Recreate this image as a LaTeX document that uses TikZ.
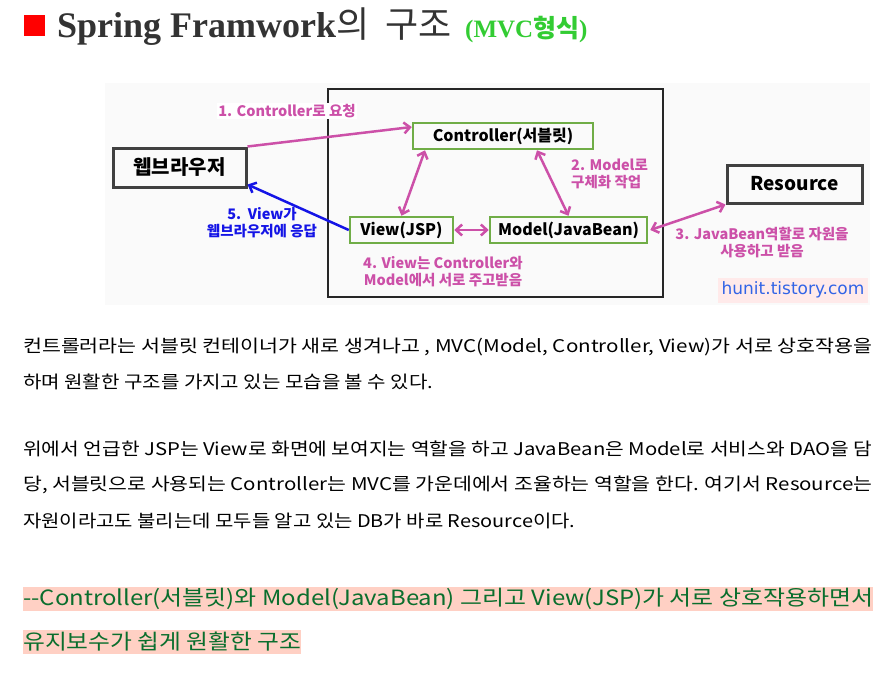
\documentclass[tikz,border=0pt]{standalone}
\usepackage{fontspec}
\usepackage{graphicx}
\setmainfont{Noto Sans CJK KR}
\newfontfamily\titleserif{Liberation Serif}
\newfontfamily\tagfont{DejaVu Sans}
\usetikzlibrary{arrows.meta,positioning}

\definecolor{flowpink}{RGB}{204,80,168}
\definecolor{mvcframe}{RGB}{112,173,71}
\definecolor{replyblue}{RGB}{20,20,230}
\definecolor{titlegray}{RGB}{51,51,51}
\definecolor{mvcgreen}{RGB}{51,204,51}
\definecolor{markpink}{RGB}{255,208,196}
\definecolor{markgreen}{RGB}{10,110,45}
\definecolor{tagblue}{RGB}{50,100,230}
\definecolor{tagpink}{RGB}{255,234,234}

% stretch a text line to a given width
\newcommand\fitline[2]{\resizebox{#1}{\height}{#2}}

\tikzset{
  outerbox/.style={draw=black!75,line width=3pt,minimum height=39pt,
    font=\bfseries\fontsize{20}{24}\selectfont},
  mvcbox/.style={draw=mvcframe,line width=2.5pt,minimum height=26pt,
    inner sep=0pt,font=\bfseries\fontsize{16}{19}\selectfont},
  flow/.style={flowpink,line width=2.5pt},
  flowtip/.style={-{Straight Barb[length=6pt,width=11pt]}},
  bothtip/.style={{Straight Barb[length=6pt,width=11pt]}-{Straight Barb[length=6pt,width=11pt]}},
  steplabel/.style={flowpink,align=center,inner sep=1pt,
    font=\bfseries\fontsize{14.5}{17}\selectfont},
  bodyline/.style={anchor=west,inner sep=0pt,font=\fontsize{17.5}{20}\selectfont},
  markline/.style={anchor=west,inner sep=0pt,fill=markpink,text=markgreen,
    minimum height=24pt,font=\fontsize{21}{24}\selectfont}
}

\begin{document}
\begin{tikzpicture}[x=1pt,y=-1pt]
    \fill[white] (0,0) rectangle (896,681);
    \useasboundingbox (0,0) rectangle (896,681);

    % title
    \fill[red] (24,15) rectangle (45,36);
    \node[anchor=base west,inner sep=0pt,text=titlegray,font=\fontsize{36}{40}\selectfont]
      (title) at (57,37) {{\titleserif\bfseries Spring Framwork}의\hspace{16pt}구조};
    \node[anchor=base west,inner sep=0pt,text=mvcgreen,font=\bfseries\fontsize{25}{28}\selectfont]
      (mvc) at (465,37) {{\titleserif(MVC}형식{\titleserif)}};

    % diagram
    \fill[black!2] (105,83) rectangle (870,305);
    \draw[black!85,line width=2.5pt] (328,89) rectangle (663,297);

    \node[outerbox,minimum width=133pt] (browser) at (179.5,167.5) {웹브라우저};
    \node[outerbox,minimum width=135pt,minimum height=38pt,font=\bfseries\fontsize{19}{22}\selectfont]
      (res) at (794.5,184) {Resource};
    \node[mvcbox,minimum width=180pt] (ctrl) at (503,136) {Controller(서블릿)};
    \node[mvcbox,minimum width=103pt] (view) at (401.5,230) {View(JSP)};
    \node[mvcbox,minimum width=157pt] (model) at (568.5,230) {Model(JavaBean)};

    \draw[flow,flowtip] (browser.north east) -- ([yshift=9pt]ctrl.west);
    \draw[flow,bothtip] ([xshift=-78pt]ctrl.south) -- (view.north);
    \draw[flow,bothtip] ([xshift=34pt]ctrl.south) -- (model.north);
    \draw[flow,bothtip] (view.east) -- (model.west);
    \draw[flow,bothtip] ([xshift=2pt]model.east) -- (res.south west);
    \draw[replyblue,line width=2.5pt,flowtip] (view.west) -- ([yshift=4pt]browser.south east);

    \node[steplabel,fill=white] (lab1) at (287,111) {1. Controller로 요청};
    \node[steplabel,align=left,anchor=west] (lab2) at (570,174) {2. Model로\\구체화 작업};
    \node[steplabel] (lab3) at (762,243) {3. JavaBean역할로 자원을\\사용하고 받음};
    \node[steplabel] (lab4) at (443,272) {4. View는 Controller와\\Model에서 서로 주고받음};
    \node[steplabel,text=replyblue] (lab5) at (262,223) {5.\ \ View가\\웹브라우저에 응답};

    \node[fill=tagpink,text=tagblue,minimum width=150pt,minimum height=25pt,inner sep=0pt,
      font=\tagfont\fontsize{17}{20}\selectfont] (tag) at (793,290) {hunit.tistory.com};

    % text below
    \node[bodyline] (par1a) at (23,347)
      {\fitline{849pt}{컨트롤러라는 서블릿 컨테이너가 새로 생겨나고 , MVC(Model, Controller, View)가 서로 상호작용을}};
    \node[bodyline] (par1b) at (23,382)
      {\fitline{410pt}{하며 원활한 구조를 가지고 있는 모습을 볼 수 있다.}};
    \node[bodyline] (par2a) at (23,449)
      {\fitline{849pt}{위에서 언급한 JSP는 View로 화면에 보여지는 역할을 하고 JavaBean은 Model로 서비스와 DAO을 담}};
    \node[bodyline] (par2b) at (23,485)
      {\fitline{849pt}{당, 서블릿으로 사용되는 Controller는 MVC를 가운데에서 조율하는 역할을 한다. 여기서 Resource는}};
    \node[bodyline] (par2c) at (23,521)
      {\fitline{552pt}{자원이라고도 불리는데 모두들 알고 있는 DB가 바로 Resource이다.}};

    % highlighted summary
    \node[markline] (sum1) at (23,599)
      {\fitline{850pt}{-{}-Controller(서블릿)와 Model(JavaBean) 그리고 View(JSP)가 서로 상호작용하면서}};
    \node[markline] (sum2) at (23,642)
      {\fitline{278pt}{유지보수가 쉽게 원활한 구조}};
\end{tikzpicture}
\end{document}
